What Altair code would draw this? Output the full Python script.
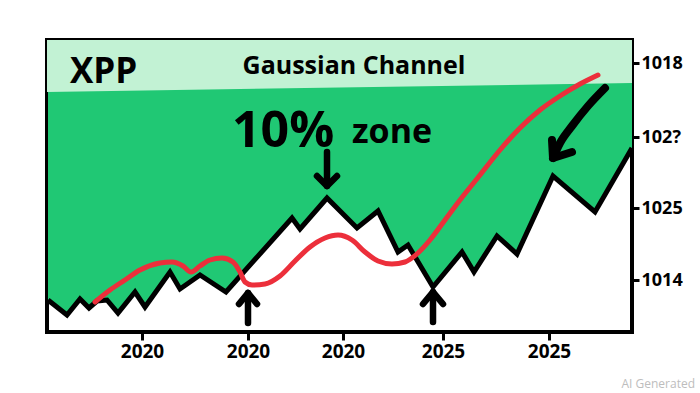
import altair as alt
import pandas as pd

# ---- data (x: along the time axis, y: along the price axis) ----
line_x = [1, 20, 33, 42, 50, 60, 71, 88, 98, 123, 133, 153, 179, 245, 253, 280, 310,
          331, 351, 361, 386, 415, 427, 450, 470, 506, 548, 585]
line_y = [32, 17, 33, 24, 31, 32, 19, 40, 25, 60, 43, 57, 40, 114, 103, 134, 104,
          121, 80, 87, 45, 80, 60, 96, 78, 156, 120, 184]

red_x = [48, 63, 78, 93, 113, 125, 136, 144, 153, 163, 175, 186, 193, 198, 205, 218,
         233, 248, 263, 278, 291, 305, 318, 331, 345, 358, 371, 383, 398, 413, 433,
         453, 473, 493, 513, 533, 551]
red_y = [30, 42, 52, 62, 69, 70, 66, 60, 66, 72, 74, 70, 60, 50, 47, 48,
         56, 71, 85, 94, 97, 92, 80, 71, 68, 70, 79, 92, 112, 132, 157,
         182, 204, 222, 236, 248, 257]

band_x = [0, 585]
band_bottom = [240, 249]
TOP = 292

x_tick_vals = [95, 201, 296, 396, 502]
x_tick_labels = ["2020", "2020", "2020", "2025", "2025"]
y_tick_vals = [52, 124, 195, 269]
y_tick_labels = ["1014", "1025", "102?", "1018"]

# arrows: (arrow id, stroke id, x list, y list)
arrow_strokes = [
    ("down", "shaft", [280, 280], [180, 146]),
    ("down", "head", [270, 280, 290], [156, 146, 156]),
    ("up1", "shaft", [201, 201], [9, 39]),
    ("up1", "head", [192, 201, 210], [28, 39, 28]),
    ("up2", "shaft", [386, 386], [10, 40]),
    ("up2", "head", [376, 386, 396], [28, 40, 28]),
]
curve_strokes = [
    ("curve", "shaft", [558, 541, 525, 513, 506], [244, 226, 206, 189, 174]),
    ("curve", "head", [505, 506, 525], [192, 174, 180]),
]


def label_expr(vals, labels):
    expr = "''"
    for v, l in zip(vals, labels):
        expr = f"datum.value == {v} ? '{l}' : ({expr})"
    return expr


def strokes_df(strokes):
    rows = []
    for aid, sid, xs, ys in strokes:
        for i, (xx, yy) in enumerate(zip(xs, ys)):
            rows.append({"id": f"{aid}-{sid}", "o": i, "x": xx, "y": yy})
    return pd.DataFrame(rows)


line_df = pd.DataFrame({"x": line_x, "y": line_y})
red_df = pd.DataFrame({"x": red_x, "y": red_y})
band_df = pd.DataFrame({"x": band_x, "y": band_bottom})

FONT = "Open Sans"
xscale = alt.Scale(domain=[0, 585], nice=False, zero=False)
yscale = alt.Scale(domain=[0, 292], nice=False, zero=False)

X = alt.X("x:Q", scale=xscale, axis=alt.Axis(
    values=x_tick_vals, labelExpr=label_expr(x_tick_vals, x_tick_labels),
    title=None, grid=False, domain=False, tickSize=8, tickWidth=3, tickColor="black",
    labelFont=FONT, labelFontSize=19, labelFontWeight="bold", labelColor="black",
    labelPadding=2))
Y = alt.Y("y:Q", scale=yscale, axis=alt.Axis(
    orient="right", values=y_tick_vals, labelExpr=label_expr(y_tick_vals, y_tick_labels),
    title=None, grid=False, domain=False, tickSize=7, tickWidth=3, tickColor="black",
    labelFont=FONT, labelFontSize=18, labelFontWeight="bold", labelColor="black",
    labelPadding=2))

green = alt.Chart(line_df).mark_area(color="#20c874", opacity=1).encode(
    x=X, y=Y, y2=alt.datum(TOP))
band = alt.Chart(band_df).mark_area(color="#c2f2d4", opacity=1).encode(
    x=alt.X("x:Q", scale=xscale), y=alt.Y("y:Q", scale=yscale), y2=alt.datum(TOP))
black = alt.Chart(line_df).mark_line(color="black", strokeWidth=5, strokeJoin="miter").encode(
    x=alt.X("x:Q", scale=xscale), y=alt.Y("y:Q", scale=yscale))
red = alt.Chart(red_df).mark_line(color="#ec2f3b", strokeWidth=5, interpolate="monotone",
                                  strokeCap="round").encode(
    x=alt.X("x:Q", scale=xscale), y=alt.Y("y:Q", scale=yscale))

arrows = alt.Chart(strokes_df(arrow_strokes)).mark_line(
    color="black", strokeWidth=6.5, strokeCap="round", strokeJoin="round").encode(
    x=alt.X("x:Q", scale=xscale), y=alt.Y("y:Q", scale=yscale), detail="id:N", order="o:Q")
curve_head = alt.Chart(strokes_df(curve_strokes[1:])).mark_line(
    color="black", strokeWidth=8, strokeCap="round", strokeJoin="round").encode(
    x=alt.X("x:Q", scale=xscale), y=alt.Y("y:Q", scale=yscale), order="o:Q")
curve_shaft = alt.Chart(strokes_df(curve_strokes[:1])).mark_line(
    color="black", strokeWidth=8, strokeCap="round", interpolate="monotone").encode(
    x=alt.X("x:Q", scale=xscale), y=alt.Y("y:Q", scale=yscale), order="o:Q")


def txt(text, x, y, size, weight="bold", align="left"):
    return alt.Chart(pd.DataFrame({"t": [text]})).mark_text(
        font=FONT, fontSize=size, fontWeight=weight, align=align, baseline="alphabetic",
        color="black").encode(x=alt.X(datum=x, scale=xscale),
                               y=alt.Y(datum=y, scale=yscale), text="t:N")


t_xpp = txt("XPP", 23, 249, 35)
t_gc = txt("Gaussian Channel", 307, 258, 25, weight="bold", align="center")
t_10 = txt("10%", 185, 185, 50)
t_zone = txt("zone", 305, 189, 34)

wm = alt.Chart(pd.DataFrame({"t": ["AI Generated"]})).mark_text(
    font=FONT, fontSize=12, color="#bdbdbd", align="right", baseline="alphabetic").encode(
    x=alt.value(648), y=alt.value(348), text="t:N")

chart = alt.layer(green, band, black, red, arrows, curve_shaft, curve_head,
                  t_xpp, t_gc, t_10, t_zone, wm).properties(
    width=585, height=292,
    autosize=alt.AutoSizeParams(type="none"),
    padding={"left": 47, "top": 40, "right": 68, "bottom": 61},
    background="white",
).configure_view(stroke="black", strokeWidth=4)

chart.save("out.html", embed_options={"renderer": "svg", "actions": False})
